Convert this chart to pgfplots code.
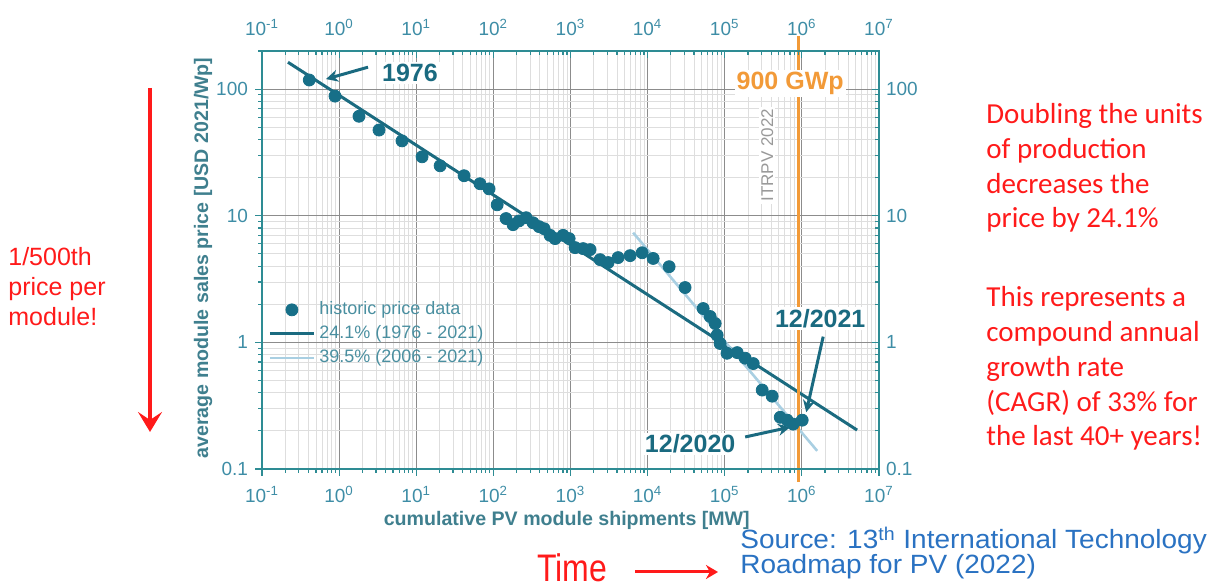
\documentclass[border=0pt]{standalone}
\usepackage{fontspec}
\setmainfont{Liberation Sans}
\newfontfamily\calibri{Carlito}
\newfontfamily\srcfont[FakeStretch=1.06]{Liberation Sans}
\usepackage{pgfplots}
\pgfplotsset{compat=1.18}
\usetikzlibrary{arrows.meta}
\definecolor{markcol}{HTML}{176F88}
\definecolor{fitdark}{HTML}{1B6B80}
\definecolor{fitlight}{HTML}{A9CFE2}
\definecolor{axiscol}{HTML}{2E8C94}
\definecolor{tickcol}{HTML}{3E8DA6}
\definecolor{labcol}{HTML}{3F7F8E}
\definecolor{legcol}{HTML}{4A8FA0}
\definecolor{annot}{HTML}{1A6A80}
\definecolor{orng}{HTML}{F29A38}
\definecolor{redc}{HTML}{FF1A1A}
\definecolor{srcblue}{HTML}{2A72C2}
\pgfplotsset{
  lineleg/.style={legend image code/.code={\draw[##1] (0pt,0pt) -- (22pt,0pt);}},
  markleg/.style={legend image code/.code={\draw[mark repeat=1,mark phase=1,##1] plot coordinates {(11pt,0pt)};}},
}
\pgfplotstableread{
x y
0.41 118
0.885 88
1.81 61
3.29 47.5
6.54 39
11.9 29.2
20.4 24.8
41.7 20.7
67 17.9
88 16.3
112 12.2
146 9.5
180 8.5
215 9.1
266 9.65
327 8.8
392 8.2
455 7.9
544 7.0
631 6.6
802 7.0
960 6.6
1148 5.6
1457 5.5
1795 5.4
2420 4.5
3075 4.27
4140 4.67
5930 4.84
8490 5.1
11800 4.6
19000 3.96
30600 2.71
52500 1.85
64700 1.6
75100 1.41
79700 1.14
87100 0.98
107000 0.82
145000 0.83
184000 0.75
234000 0.68
306000 0.42
412000 0.376
524000 0.256
645000 0.243
771000 0.226
1010000 0.243
}\pricedata
\begin{document}
\begin{tikzpicture}
\path[use as bounding box] (0,0) rectangle (614pt,294pt);
\begin{axis}[
  at={(131pt,59.5pt)}, anchor=south west,
  scale only axis, width=308.5pt, height=209pt,
  xmode=log, ymode=log, log basis x=10, log basis y=10,
  xmin=0.1, xmax=1e7, ymin=0.1, ymax=200,
  xtick={0.1,1,10,100,1000,10000,100000,1000000,10000000},
  xticklabels={10\textsuperscript{-1},10\textsuperscript{0},10\textsuperscript{1},10\textsuperscript{2},10\textsuperscript{3},10\textsuperscript{4},10\textsuperscript{5},10\textsuperscript{6},10\textsuperscript{7}},
  minor xtick={0.2,0.3,0.4,0.5,0.6,0.7,0.8,0.9,
    2,3,4,5,6,7,8,9, 20,30,40,50,60,70,80,90,
    200,300,400,500,600,700,800,900,
    2e3,3e3,4e3,5e3,6e3,7e3,8e3,9e3,
    2e4,3e4,4e4,5e4,6e4,7e4,8e4,9e4,
    2e5,3e5,4e5,5e5,6e5,7e5,8e5,9e5,
    2e6,3e6,4e6,5e6,6e6,7e6,8e6,9e6},
  ytick={0.1,1,10,100}, yticklabels={0.1,1,10,100},
  minor ytick={0.2,0.3,0.4,0.5,0.6,0.7,0.8,0.9,2,3,4,5,6,7,8,9,20,30,40,50,60,70,80,90,200},
  major tick length=3.5pt, minor tick length=2pt,
  tick style={axiscol, line width=0.6pt},
  axis line style={axiscol, line width=1pt},
  tick label style={font=\fontsize{9.5}{10}\selectfont, text=tickcol},
  clip=false,
  xtick pos=left, ytick pos=left, tick align=outside,
  xticklabel style={yshift=-1.5pt},
  grid=both,
  major grid style={draw=black!45, line width=0.5pt},
  minor grid style={draw=black!13, line width=0.4pt},
  xlabel={cumulative PV module shipments [MW]},
  ylabel={average module sales price [USD 2021/Wp]},
  label style={font=\bfseries\fontsize{9.8}{11}\selectfont, text=labcol},
  xlabel style={at={(axis description cs:0.494,-0.122)}, anchor=center},
  ylabel style={at={(axis description cs:-0.0956,0.505)}, anchor=center},
  legend style={draw=none, fill=none, at={(rel axis cs:0.0,0.42)}, anchor=north west,
    font=\fontsize{9}{10}\selectfont, text=legcol, row sep=0pt},
  legend cell align=left,
]
\addplot[only marks, mark=*, mark size=3pt, color=markcol, markleg]
  table[x=x,y=y] {\pricedata};
\addlegendentry{historic price data}
\addplot[fitdark, line width=1.5pt, no marks, lineleg]
  coordinates {(0.217,163) (5.2e6,0.203)};
\addlegendentry{24.1\% (1976 - 2021)}
\addplot[fitlight, line width=1.3pt, no marks, lineleg]
  coordinates {(6490,7.35) (1.58e6,0.139)};
\addlegendentry{39.5\% (2006 - 2021)}
\addplot[orng, line width=1.5pt, no marks, forget plot]
  coordinates {(9e5,0.079) (9e5,261)};
% annotations
\node[font=\bfseries\fontsize{12.5}{14}\selectfont, text=orng, fill=white, inner sep=1pt] at (axis cs:7.05e5,111) {900 GWp};
\node[rotate=90, font=\fontsize{8.5}{10}\selectfont, text=black!40, fill=white, inner sep=1pt] at (axis cs:3.55e5,30) {ITRPV 2022};
\node[font=\bfseries\fontsize{12.5}{14}\selectfont, text=annot, fill=white, inner sep=1pt] at (axis cs:8.3,134) {1976};
\draw[annot, line width=1.5pt, -{Stealth[length=6pt,width=6pt]}] (axis cs:2.37,149) -- (axis cs:0.676,120);
\node[font=\bfseries\fontsize{12.5}{14}\selectfont, text=annot, fill=white, inner sep=1pt] at (axis cs:1.73e6,1.55) {12/2021};
\draw[annot, line width=1.5pt, -{Stealth[length=6pt,width=6pt]}] (axis cs:1.89e6,1.11) -- (axis cs:1.14e6,0.281);
\node[font=\bfseries\fontsize{12.5}{14}\selectfont, text=annot, fill=white, inner sep=1pt] at (axis cs:35600,0.158) {12/2020};
\draw[annot, line width=1.5pt, -{Stealth[length=6pt,width=6pt]}] (axis cs:184000,0.179) -- (axis cs:705000,0.214);
\end{axis}
\begin{axis}[
  at={(131pt,59.5pt)}, anchor=south west,
  scale only axis, width=308.5pt, height=209pt,
  xmode=log, ymode=log, log basis x=10, log basis y=10,
  xmin=0.1, xmax=1e7, ymin=0.1, ymax=200,
  xtick={0.1,1,10,100,1000,10000,100000,1000000,10000000},
  xticklabels={10\textsuperscript{-1},10\textsuperscript{0},10\textsuperscript{1},10\textsuperscript{2},10\textsuperscript{3},10\textsuperscript{4},10\textsuperscript{5},10\textsuperscript{6},10\textsuperscript{7}},
  minor xtick={0.2,0.3,0.4,0.5,0.6,0.7,0.8,0.9,
    2,3,4,5,6,7,8,9, 20,30,40,50,60,70,80,90,
    200,300,400,500,600,700,800,900,
    2e3,3e3,4e3,5e3,6e3,7e3,8e3,9e3,
    2e4,3e4,4e4,5e4,6e4,7e4,8e4,9e4,
    2e5,3e5,4e5,5e5,6e5,7e5,8e5,9e5,
    2e6,3e6,4e6,5e6,6e6,7e6,8e6,9e6},
  ytick={0.1,1,10,100}, yticklabels={0.1,1,10,100},
  minor ytick={0.2,0.3,0.4,0.5,0.6,0.7,0.8,0.9,2,3,4,5,6,7,8,9,20,30,40,50,60,70,80,90,200},
  major tick length=3.5pt, minor tick length=2pt,
  tick style={axiscol, line width=0.6pt},
  axis line style={axiscol, line width=1pt},
  tick label style={font=\fontsize{9.5}{10}\selectfont, text=tickcol},
  xtick pos=right, ytick pos=right, xticklabel pos=right, yticklabel pos=right,
  tick align=inside,
  xticklabel style={yshift=4pt},
]
\addplot[draw=none, forget plot] coordinates {(1,1)};
\end{axis}
% outside texts
\node[anchor=west, align=left, text=redc, inner sep=0pt, font=\fontsize{12.5}{15}\selectfont] at (4pt,150.5pt) {1/500th\\price per\\module!};
\draw[redc, line width=2pt, -{Stealth[length=10pt,width=12pt,inset=4pt]}] (75pt,250pt) -- (75pt,78pt);
\node[anchor=west, align=left, text=redc, inner sep=0pt, font=\calibri\fontsize{14.5}{17.4}\selectfont] at (493pt,210pt) {Doubling the units\\of production\\decreases the\\price by 24.1\%};
\node[anchor=west, align=left, text=redc, inner sep=0pt, font=\calibri\fontsize{14.5}{17.4}\selectfont] at (493pt,109.75pt) {This represents a\\compound annual\\growth rate\\(CAGR) of 33\% for\\the last 40+ years!};
\node[anchor=base, text=redc, inner sep=0pt, yscale=1.2, font=\fontsize{16}{18}\selectfont] at (286pt,3pt) {Time};
\draw[redc, line width=1.5pt, -{Stealth[length=6pt,width=7pt]}] (317.5pt,8pt) -- (359pt,8pt);
\node[anchor=base west, text=srcblue, inner sep=0pt, font=\srcfont\fontsize{13.2}{13}\selectfont] at (370pt,19.5pt) {Source: 13\textsuperscript{th} International Technology};
\node[anchor=base west, text=srcblue, inner sep=0pt, font=\srcfont\fontsize{13.2}{13}\selectfont] at (370pt,7pt) {Roadmap for PV (2022)};
\end{tikzpicture}
\end{document}
